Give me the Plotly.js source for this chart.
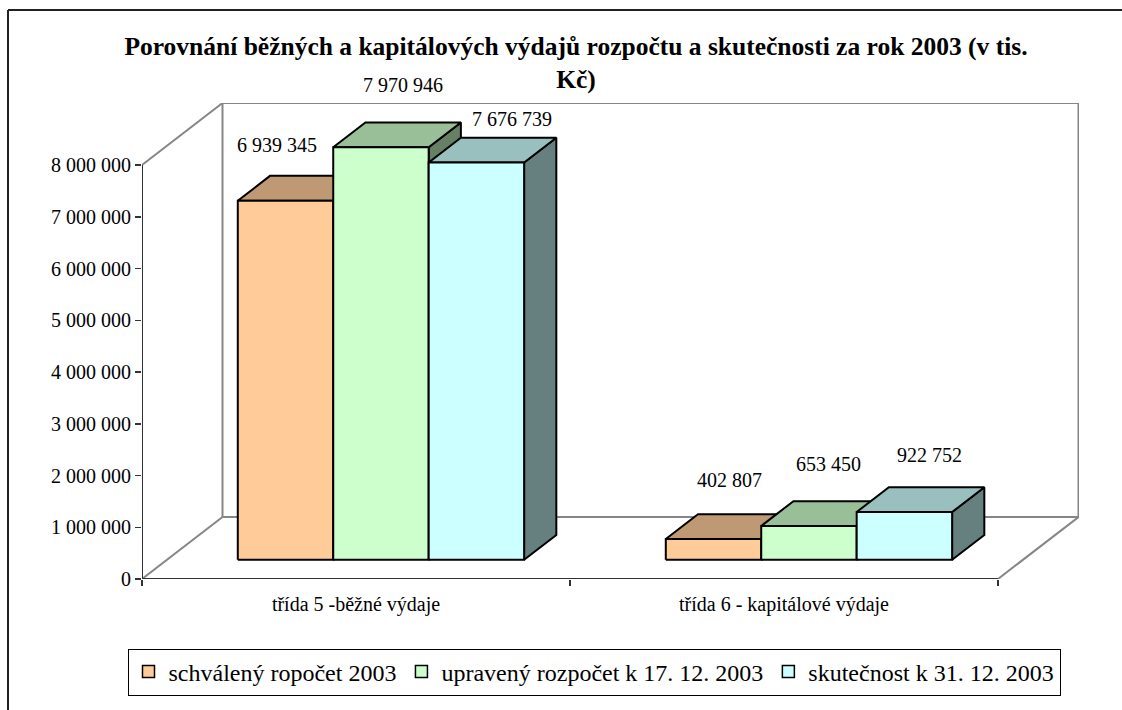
<!DOCTYPE html>
<html>
<head>
<meta charset="utf-8">
<script src="https://cdn.plot.ly/plotly-3.0.1.min.js"></script>
<style>html,body{margin:0;padding:0;background:#fff;}#chart{width:1122px;height:710px;}</style>
</head>
<body>
<div id="chart"></div>
<script>
// ---------------- DATA ----------------
const categories = ['třída 5 -běžné výdaje', 'třída 6 - kapitálové výdaje'];
const seriesNames = ['schválený ropočet 2003', 'upravený rozpočet k 17. 12. 2003', 'skutečnost k 31. 12. 2003'];
const schvaleny = [6939345, 402807];
const upraveny = [7970946, 653450];
const skutecnost = [7676739, 922752];
const yTickVals = [0, 1000000, 2000000, 3000000, 4000000, 5000000, 6000000, 7000000, 8000000];
const yTickText = ['0', '1 000 000', '2 000 000', '3 000 000', '4 000 000', '5 000 000', '6 000 000', '7 000 000', '8 000 000'];
const titleText = '<b>Porovnání běžných a kapitálových výdajů rozpočtu a skutečnosti za rok 2003 (v tis.<br>Kč)</b>';

// ---------------- STYLE ----------------
const frontColors = ['#FFCC99', '#CCFFCC', '#CCFFFF'];
const topColors = ['#BF9973', '#99BF99', '#99BFBF'];
const sideColors = ['#80664D', '#668066', '#668080'];
const FONT = '"Liberation Serif", "Times New Roman", "DejaVu Serif", serif';
// label offsets (pixels) relative to top-face centre
const labelShiftX = [[-25, 0], [6, 3], [19, 9]];
const labelShiftY = [[43, 47], [50, 50], [31, 45]];

// 3D geometry (in axis units)
const yMaxAxis = 8000000;
const DX = 80.5 / 428;             // depth offset in category units
const DY = yMaxAxis * 62 / 414;    // depth offset in value units
const F0 = 0.31, F1 = 0.71;        // bar depth range (fraction of depth)
const BW = 0.223;                  // bar width in category units
const xMin = -0.5, xFrontMax = 1.5;
const xRange = [xMin, xMin + 937 / 428];
const yRange = [0, yMaxAxis + DY];

const values = [schvaleny, upraveny, skutecnost];
const traces = [];

// walls (grey)
const wallX = [xMin + DX, xMin + DX, xFrontMax + DX, xFrontMax + DX, xMin + DX, null,
               xMin, xMin + DX, null, xMin, xMin + DX, null, xFrontMax, xFrontMax + DX];
const wallY = [DY, yMaxAxis + DY, yMaxAxis + DY, DY, DY, null,
               yMaxAxis, yMaxAxis + DY, null, 0, DY, null, 0, DY];
traces.push({type: 'scatter', mode: 'lines', x: wallX, y: wallY, cliponaxis: false,
  line: {color: '#868686', width: 2}, showlegend: false, hoverinfo: 'skip'});
// front axes (dark)
traces.push({type: 'scatter', mode: 'lines', x: [xMin, xMin, null, xMin, xFrontMax], y: [0, yMaxAxis, null, 0, 0],
  cliponaxis: false, line: {color: '#333333', width: 2}, showlegend: false, hoverinfo: 'skip'});

function poly(xs, ys, fill) {
  traces.push({type: 'scatter', mode: 'lines', x: xs.concat([xs[0]]), y: ys.concat([ys[0]]),
    fill: 'toself', fillcolor: fill, line: {color: '#000000', width: 2},
    cliponaxis: false, showlegend: false, hoverinfo: 'skip'});
}

const annotations = [];
function fmt(v) { return String(v).replace(/\B(?=(\d{3})+(?!\d))/g, ' '); }

for (let c = 0; c < categories.length; c++) {
  for (let s = 0; s < values.length; s++) {
    const v = values[s][c];
    const x0 = c - 1.5 * BW + s * BW, x1 = x0 + BW;
    const ox0 = F0 * DX, oy0 = F0 * DY, ox1 = F1 * DX, oy1 = F1 * DY;
    poly([x1 + ox0, x1 + ox1, x1 + ox1, x1 + ox0], [oy0, oy1, v + oy1, v + oy0], sideColors[s]);
    poly([x0 + ox0, x1 + ox0, x1 + ox1, x0 + ox1], [v + oy0, v + oy0, v + oy1, v + oy1], topColors[s]);
    poly([x0 + ox0, x1 + ox0, x1 + ox0, x0 + ox0], [oy0, oy0, v + oy0, v + oy0], frontColors[s]);
    annotations.push({x: (x0 + x1) / 2 + (ox0 + ox1) / 2, y: v + (oy0 + oy1) / 2, xref: 'x', yref: 'y',
      text: fmt(v), showarrow: false, xanchor: 'center', yanchor: 'middle',
      xshift: labelShiftX[s][c], yshift: labelShiftY[s][c],
      font: {family: FONT, size: 20, color: '#000'}});
  }
}

for (let s = 0; s < seriesNames.length; s++) {
  traces.push({type: 'bar', name: seriesNames[s], x: [null], y: [null],
    marker: {color: frontColors[s], line: {color: '#000', width: 1.5}}, hoverinfo: 'skip'});
}
traces.push({type: 'scatter', mode: 'markers', x: [0, 1], y: [0, 0], xaxis: 'x2', yaxis: 'y',
  marker: {opacity: 0}, showlegend: false, hoverinfo: 'skip'});

const L = 142, R = 1122 - 1079, T = 710 - 476 - 131, B = 131;
const pw = 1122 - L - R, ph = 710 - T - B;
function px(x) { return (x - L) / pw; }
function py(y) { return (710 - B - y) / ph; }

const layout = {
  width: 1122, height: 710,
  margin: {l: L, r: R, t: T, b: B, pad: 0},
  paper_bgcolor: '#ffffff', plot_bgcolor: 'rgba(0,0,0,0)',
  showlegend: true, hovermode: false,
  font: {family: FONT, size: 20, color: '#000'},
  title: {text: titleText, font: {family: FONT, size: 25.5, color: '#000'},
    xref: 'container', x: 576 / 1122, xanchor: 'center', yref: 'container', y: 1 - 55 / 710, yanchor: 'top'},
  xaxis: {range: xRange, showgrid: false, zeroline: false, showline: false,
    tickmode: 'array', tickvals: [-0.5, 0.5, 1.5], ticktext: ['', '', ''],
    ticks: 'outside', ticklen: 6, tickwidth: 1.5, tickcolor: '#333', fixedrange: true},
  xaxis2: {range: xRange, overlaying: 'x', anchor: 'y', side: 'bottom', showgrid: false, zeroline: false, showline: false,
    tickmode: 'array', tickvals: [0, 1], ticktext: categories, ticks: 'outside', ticklen: 7,
    tickcolor: 'rgba(0,0,0,0)', tickfont: {family: FONT, size: 20, color: '#000'}, fixedrange: true},
  yaxis: {range: yRange, showgrid: false, zeroline: false, showline: false,
    tickmode: 'array', tickvals: yTickVals, ticktext: yTickText, ticks: 'outside', ticklen: 6,
    tickwidth: 1.5, tickcolor: '#333', tickfont: {family: FONT, size: 20, color: '#000'}, fixedrange: true},
  legend: {orientation: 'h', xref: 'container', yref: 'container', x: 594 / 1122, xanchor: 'center',
    y: 1 - 672 / 710, yanchor: 'middle', bordercolor: '#000', borderwidth: 1, bgcolor: '#fff',
    font: {family: FONT, size: 24, color: '#000'}, traceorder: 'normal'},
  annotations: annotations,
  shapes: [
    {type: 'line', xref: 'paper', yref: 'paper', x0: px(8), x1: px(8), y0: py(10), y1: py(712), line: {color: '#222', width: 2}},
    {type: 'line', xref: 'paper', yref: 'paper', x0: px(8), x1: px(1124), y0: py(10), y1: py(10), line: {color: '#222', width: 2}}
  ]
};

Plotly.newPlot('chart', traces, layout, {staticPlot: true, displayModeBar: false});
</script>
</body>
</html>
